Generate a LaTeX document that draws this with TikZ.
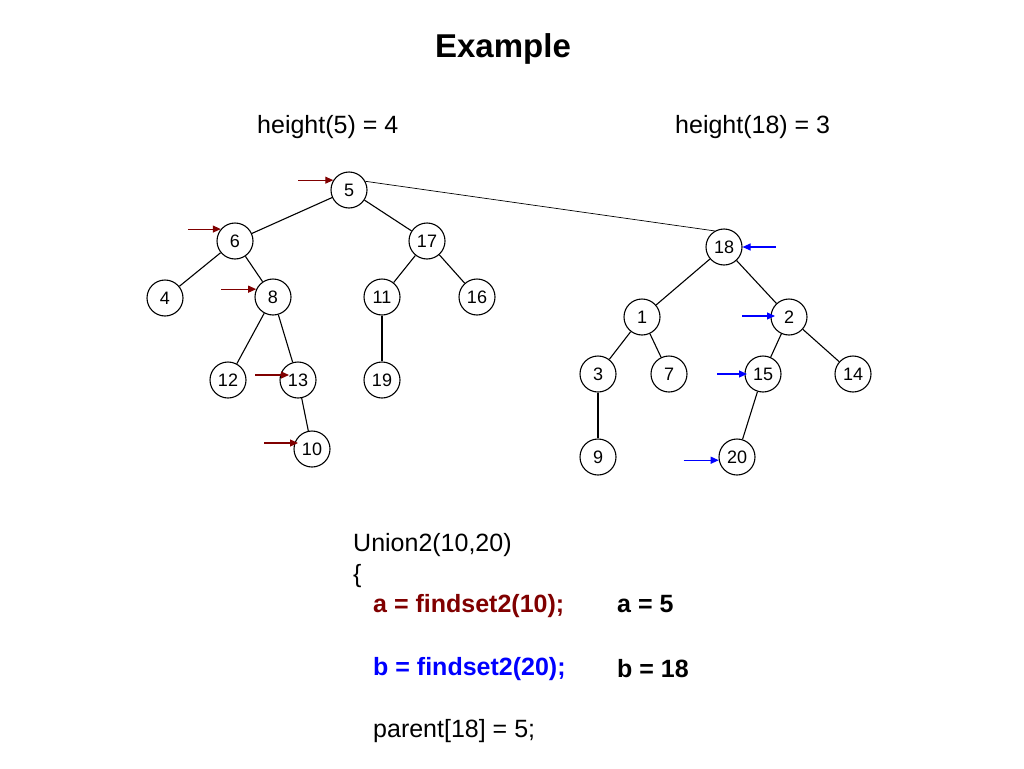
\documentclass[tikz,border=0pt]{standalone}
\usepackage{fontspec}
\setmainfont{Liberation Sans}
\usepackage{tikz}
\usetikzlibrary{calc, positioning, arrows.meta}
\definecolor{findA}{RGB}{128,0,0}
\definecolor{findB}{RGB}{0,0,255}

\begin{document}
\begin{tikzpicture}[x=1pt, y=-1pt,
        vertex/.style={circle, draw, line width=1.1pt, minimum size=36pt, inner sep=0pt, font=\fontsize{18}{18}\selectfont},
        edge/.style={line width=1.1pt},
        redarrow/.style={line width=1.1pt, findA, -{Triangle[length=8pt, width=7pt]}},
        bluearrow/.style={line width=1.1pt, findB, -{Triangle[length=8pt, width=7pt]}},
        label/.style={anchor=base west, inner sep=0pt, font=\fontsize{25}{25}\selectfont}]
            \useasboundingbox (0,0) rectangle (1024,768);

            \node[anchor=base, inner sep=0pt, font=\fontsize{33}{33}\selectfont\bfseries] (title) at (503,57) {Example};
            \node[label] (h5) at (257,133) {height(5) = 4};
            \node[label] (h18) at (675,133) {height(18) = 3};

            % first tree, rooted at 5
            \begin{scope}
                \node[vertex] (n5) at (349,190) {5};
                \node[vertex] (n6) at (235,241) {6};
                \node[vertex] (n17) at (427,241) {17};
                \node[vertex] (n4) at (165,298) {4};
                \node[vertex] (n8) at (273,297) {8};
                \node[vertex] (n11) at (382,297) {11};
                \node[vertex] (n16) at (477,297) {16};
                \node[vertex] (n12) at (228,380) {12};
                \node[vertex] (n13) at (298,380) {13};
                \node[vertex] (n19) at (382,380) {19};
                \node[vertex] (n10) at (312,449) {10};
                \foreach \a/\b in {n5/n6, n5/n17, n6/n4, n6/n8, n8/n12, n8/n13, n13/n10, n17/n11, n17/n16, n11/n19}
                    \draw[edge] (\a) -- (\b);
            \end{scope}

            % second tree, rooted at 18
            \begin{scope}
                \node[vertex] (n18) at (724,247) {18};
                \node[vertex] (n1) at (642,317) {1};
                \node[vertex] (n2) at (789,317) {2};
                \node[vertex] (n3) at (598,374) {3};
                \node[vertex] (n7) at (669,374) {7};
                \node[vertex] (n15) at (763,374) {15};
                \node[vertex] (n14) at (853,374) {14};
                \node[vertex] (n9) at (598,457) {9};
                \node[vertex] (n20) at (737,457) {20};
                \foreach \a/\b in {n18/n1, n18/n2, n1/n3, n1/n7, n3/n9, n2/n15, n2/n14, n15/n20}
                    \draw[edge] (\a) -- (\b);
            \end{scope}

            \draw[line width=0.7pt] (n5.28) -- (n18.120);

            % find paths
            \draw[redarrow] ([xshift=-35pt]n5.148) -- (n5.148);
            \draw[redarrow] ([xshift=-33pt]n6.140) -- (n6.140);
            \draw[redarrow] ([xshift=-35pt]n8.155) -- (n8.155);
            \draw[redarrow] ([xshift=-43pt, yshift=5pt]n13.center) -- ([xshift=-9pt, yshift=5pt]n13.center);
            \draw[redarrow] ([xshift=-48pt, yshift=6pt]n10.center) -- ([xshift=-14pt, yshift=6pt]n10.center);
            \draw[bluearrow] ([xshift=33pt]n18.east) -- (n18.east);
            \draw[bluearrow] ([xshift=-47pt, yshift=1pt]n2.center) -- ([xshift=-14pt, yshift=1pt]n2.center);
            \draw[bluearrow] ([xshift=-46pt]n15.center) -- ([xshift=-16pt]n15.center);
            \draw[bluearrow] ([xshift=-35pt]n20.190) -- (n20.190);

            % the union code
            \node[label] (c1) at (353,551) {Union2(10,20)};
            \node[label] (c2) at (353,582) {\{};
            \node[label, text=findA, font=\fontsize{25}{25}\selectfont\bfseries] (c3) at (373,612) {a = findset2(10);};
            \node[label, text=findB, font=\fontsize{25}{25}\selectfont\bfseries] (c4) at (373,675) {b = findset2(20);};
            \node[label] (c5) at (373,737) {parent[18] = 5;};
            \node[label, font=\fontsize{25}{25}\selectfont\bfseries] (ra) at (617,612) {a = 5};
            \node[label, font=\fontsize{25}{25}\selectfont\bfseries] (rb) at (617,677) {b = 18};
        \end{tikzpicture}
\end{document}
